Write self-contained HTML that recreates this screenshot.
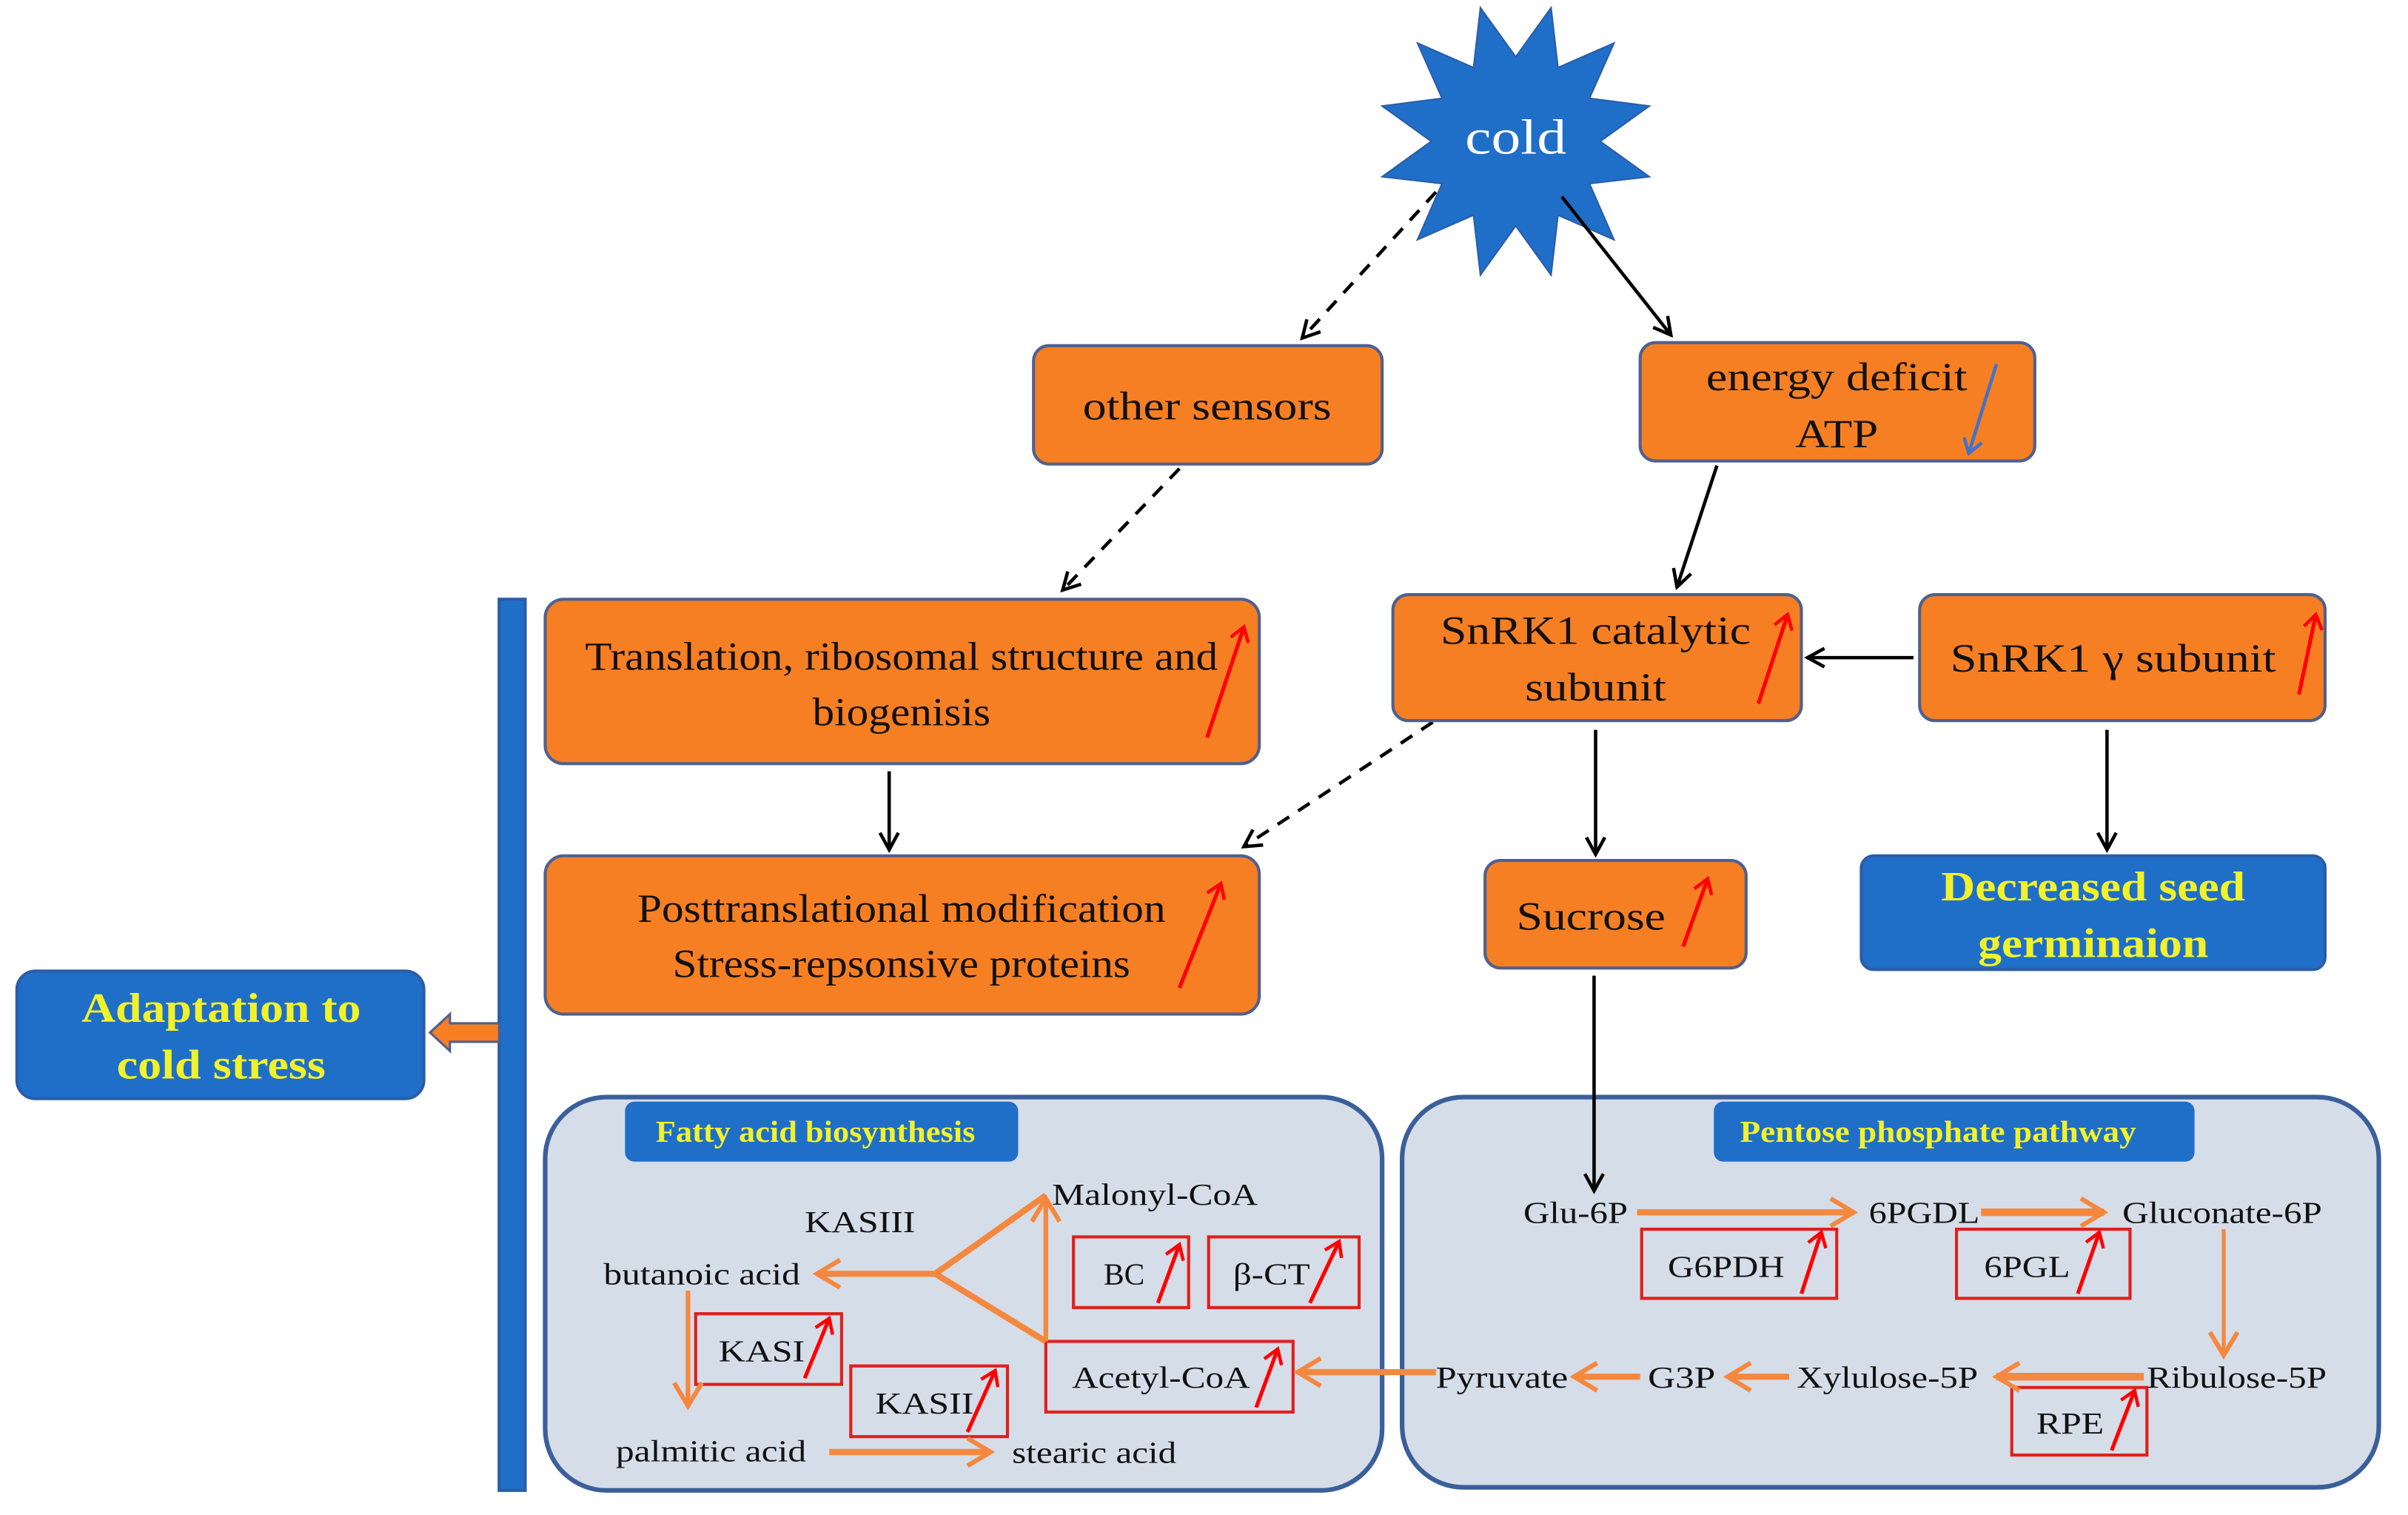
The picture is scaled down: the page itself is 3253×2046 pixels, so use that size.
<!DOCTYPE html>
<html><head><meta charset="utf-8"><style>
html,body{margin:0;padding:0;background:#fff}
svg{display:block}
svg text{font-family:"Liberation Serif","Times New Roman",serif}
</style></head><body>
<svg width="3253" height="2046" viewBox="0 0 1568 986" preserveAspectRatio="none" xmlns="http://www.w3.org/2000/svg" font-family="Liberation Serif, serif">
<defs>
<marker id="ab" markerWidth="14" markerHeight="14" refX="12" refY="7" orient="auto" markerUnits="userSpaceOnUse"><path d="M1,1 L12,7 L1,13" fill="none" stroke="#000" stroke-width="2.2"/></marker>
<marker id="ao" markerWidth="20" markerHeight="22" refX="17" refY="11" orient="auto" markerUnits="userSpaceOnUse"><path d="M2,2 L17,11 L2,20" fill="none" stroke="#f5883f" stroke-width="3"/></marker>
<marker id="ar" markerWidth="12" markerHeight="14" refX="10" refY="7" orient="auto" markerUnits="userSpaceOnUse"><path d="M1,1 L10,7 L1,13" fill="none" stroke="#f00" stroke-width="2.2"/></marker>
<marker id="abl" markerWidth="12" markerHeight="14" refX="10" refY="7" orient="auto" markerUnits="userSpaceOnUse"><path d="M1,1 L10,7 L1,13" fill="none" stroke="#4472c4" stroke-width="2.2"/></marker>
</defs>

<polygon fill="#1f6fc9" stroke="#2a5da8" stroke-width="1" points="1010,5 1014.5,44 1051,28 1035,64 1074,69 1042,92 1074,115 1035,119.5 1051,156 1014.5,140 1010,179 987,147 964,179 959.5,140 923,156 939,119.5 900,115 932,92 900,69 939,64 923,28 959.5,44 964,5 987,37"/>
<text x="987" y="100" font-size="32" fill="#fff" text-anchor="middle" textLength="66" lengthAdjust="spacingAndGlyphs">cold</text>

<g stroke="#000" stroke-width="2.2" fill="none">
<line x1="935" y1="125" x2="848" y2="220" stroke-dasharray="9,7" marker-end="url(#ab)"/>
<line x1="1017" y1="128" x2="1088" y2="218" marker-end="url(#ab)"/>
<line x1="768" y1="305" x2="692" y2="384" stroke-dasharray="9,7" marker-end="url(#ab)"/>
<line x1="1118" y1="303" x2="1092" y2="382" marker-end="url(#ab)"/>
<line x1="1246" y1="428" x2="1177" y2="428" marker-end="url(#ab)"/>
<line x1="579" y1="502" x2="579" y2="553" marker-end="url(#ab)"/>
<line x1="933" y1="470" x2="810" y2="551" stroke-dasharray="9,7" marker-end="url(#ab)"/>
<line x1="1039" y1="475" x2="1039" y2="556" marker-end="url(#ab)"/>
<line x1="1372" y1="475" x2="1372" y2="553" marker-end="url(#ab)"/>
</g>

<g fill="#f67f24" stroke="#50608e" stroke-width="2">
<rect x="673" y="225" width="227" height="77" rx="10"/>
<rect x="1068" y="223" width="257" height="77" rx="10"/>
<rect x="355" y="390" width="465" height="107" rx="12"/>
<rect x="907" y="387" width="266" height="82" rx="10"/>
<rect x="1250" y="387" width="264" height="82" rx="10"/>
<rect x="355" y="557" width="465" height="103" rx="12"/>
<rect x="967" y="560" width="170" height="70" rx="10"/>
</g>
<g font-size="26" fill="#111" text-anchor="middle">
<text x="786" y="273" textLength="162" lengthAdjust="spacingAndGlyphs">other sensors</text>
<text x="1196" y="254" textLength="170" lengthAdjust="spacingAndGlyphs">energy deficit</text>
<text x="1196" y="291" textLength="54" lengthAdjust="spacingAndGlyphs">ATP</text>
<text x="587" y="436" textLength="412" lengthAdjust="spacingAndGlyphs">Translation, ribosomal structure and</text>
<text x="587" y="472" textLength="116" lengthAdjust="spacingAndGlyphs">biogenisis</text>
<text x="1039" y="419" textLength="202" lengthAdjust="spacingAndGlyphs">SnRK1 catalytic</text>
<text x="1039" y="456" textLength="92" lengthAdjust="spacingAndGlyphs">subunit</text>
<text x="1376" y="437" textLength="212" lengthAdjust="spacingAndGlyphs">SnRK1 γ subunit</text>
<text x="587" y="600" textLength="344" lengthAdjust="spacingAndGlyphs">Posttranslational modification</text>
<text x="587" y="636" textLength="298" lengthAdjust="spacingAndGlyphs">Stress-repsonsive proteins</text>
<text x="1036" y="605" textLength="97" lengthAdjust="spacingAndGlyphs">Sucrose</text>
</g>
<line x1="1300" y1="237" x2="1282" y2="295" stroke="#4472c4" stroke-width="2.2" marker-end="url(#abl)"/>

<g fill="#1f6fc9" stroke="#2a5da8" stroke-width="2">
<rect x="1212" y="557" width="302" height="74" rx="8"/>
<rect x="11" y="632" width="265" height="83" rx="12"/>
<rect x="325" y="390" width="17" height="580"/>
</g>
<g font-size="27" font-weight="bold" fill="#f2f22a" text-anchor="middle">
<text x="1363" y="586" textLength="198" lengthAdjust="spacingAndGlyphs">Decreased seed</text>
<text x="1363" y="623" textLength="150" lengthAdjust="spacingAndGlyphs">germinaion</text>
<text x="144" y="665" textLength="182" lengthAdjust="spacingAndGlyphs">Adaptation to</text>
<text x="144" y="702" textLength="136" lengthAdjust="spacingAndGlyphs">cold stress</text>
</g>
<polygon points="280,672 293,660 293,666 325,666 325,678 293,678 293,684" fill="#f67f24" stroke="#50608e" stroke-width="1.5"/>

<g fill="#d5dde8" stroke="#3a5f9a" stroke-width="3">
<rect x="355" y="714" width="545" height="256" rx="40"/>
<rect x="913" y="714" width="636" height="254" rx="40"/>
</g>
<g fill="#1f6fc9">
<rect x="407" y="717" width="256" height="39" rx="6"/>
<rect x="1116" y="717" width="313" height="39" rx="6"/>
</g>
<g font-size="20" font-weight="bold" fill="#f2f22a" text-anchor="middle">
<text x="531" y="743" textLength="208" lengthAdjust="spacingAndGlyphs">Fatty acid biosynthesis</text>
<text x="1262" y="743" textLength="258" lengthAdjust="spacingAndGlyphs">Pentose phosphate  pathway</text>
</g>
<line x1="1038" y1="635" x2="1038" y2="775" stroke="#000" stroke-width="2.2" marker-end="url(#ab)"/>

<g fill="none" stroke="#e0201c" stroke-width="2">
<rect x="453" y="855" width="95" height="46"/>
<rect x="554" y="889" width="102" height="46"/>
<rect x="699" y="805" width="75" height="46"/>
<rect x="787" y="805" width="98" height="46"/>
<rect x="681" y="873" width="161" height="46"/>
<rect x="1069" y="800" width="127" height="45"/>
<rect x="1274" y="800" width="113" height="45"/>
<rect x="1310" y="903" width="88" height="44"/>
</g>

<g stroke="#f5883f" stroke-width="4" fill="none">
<line x1="609" y1="829" x2="532" y2="829" marker-end="url(#ao)"/>
<polyline points="681,873 609,829 681,778"/>
<line x1="681" y1="873" x2="681" y2="780" stroke-width="3" marker-end="url(#ao)"/>
<line x1="448" y1="840" x2="448" y2="915" stroke-width="3" marker-end="url(#ao)"/>
<line x1="540" y1="945" x2="645" y2="945" marker-end="url(#ao)"/>
<line x1="935" y1="893" x2="845" y2="893" marker-end="url(#ao)"/>
<line x1="1066" y1="789" x2="1207" y2="789" marker-end="url(#ao)"/>
<line x1="1290" y1="789" x2="1370" y2="789" stroke-width="5" marker-end="url(#ao)"/>
<line x1="1448" y1="800" x2="1448" y2="882" stroke-width="2.5" marker-end="url(#ao)"/>
<line x1="1396" y1="896" x2="1300" y2="896" stroke-width="5" marker-end="url(#ao)"/>
<line x1="1165" y1="896" x2="1125" y2="896" marker-end="url(#ao)"/>
<line x1="1068" y1="896" x2="1025" y2="896" marker-end="url(#ao)"/>
</g>

<g font-size="20" fill="#111">
<text x="685" y="784" textLength="134" lengthAdjust="spacingAndGlyphs">Malonyl-CoA</text>
<text x="560" y="802" text-anchor="middle" textLength="72" lengthAdjust="spacingAndGlyphs">KASIII</text>
<text x="393" y="836" textLength="128" lengthAdjust="spacingAndGlyphs">butanoic acid</text>
<text x="496" y="886" text-anchor="middle" textLength="56" lengthAdjust="spacingAndGlyphs">KASI</text>
<text x="602" y="920" text-anchor="middle" textLength="64" lengthAdjust="spacingAndGlyphs">KASII</text>
<text x="732" y="836" text-anchor="middle">BC</text>
<text x="828" y="836" text-anchor="middle" textLength="50" lengthAdjust="spacingAndGlyphs">β-CT</text>
<text x="756" y="903" text-anchor="middle" textLength="116" lengthAdjust="spacingAndGlyphs">Acetyl-CoA</text>
<text x="401" y="951" textLength="124" lengthAdjust="spacingAndGlyphs">palmitic acid</text>
<text x="659" y="952" textLength="107" lengthAdjust="spacingAndGlyphs">stearic acid</text>
<text x="992" y="796" textLength="68" lengthAdjust="spacingAndGlyphs">Glu-6P</text>
<text x="1217" y="796" textLength="72" lengthAdjust="spacingAndGlyphs">6PGDL</text>
<text x="1382" y="796" textLength="130" lengthAdjust="spacingAndGlyphs">Gluconate-6P</text>
<text x="1124" y="831" text-anchor="middle" textLength="76" lengthAdjust="spacingAndGlyphs">G6PDH</text>
<text x="1320" y="831" text-anchor="middle" textLength="56" lengthAdjust="spacingAndGlyphs">6PGL</text>
<text x="1398" y="903" textLength="117" lengthAdjust="spacingAndGlyphs">Ribulose-5P</text>
<text x="1170" y="903" textLength="118" lengthAdjust="spacingAndGlyphs">Xylulose-5P</text>
<text x="1073" y="903" textLength="44" lengthAdjust="spacingAndGlyphs">G3P</text>
<text x="935" y="903" textLength="86" lengthAdjust="spacingAndGlyphs">Pyruvate</text>
<text x="1348" y="933" text-anchor="middle" textLength="44" lengthAdjust="spacingAndGlyphs">RPE</text>
</g>

<g stroke="#f00" stroke-width="2.5" fill="none">
<line x1="786" y1="480" x2="810" y2="408" marker-end="url(#ar)"/>
<line x1="1145" y1="458" x2="1164" y2="400" marker-end="url(#ar)"/>
<line x1="1497" y1="452" x2="1508" y2="400" marker-end="url(#ar)"/>
<line x1="768" y1="643" x2="795" y2="575" marker-end="url(#ar)"/>
<line x1="1096" y1="616" x2="1112" y2="572" marker-end="url(#ar)"/>
<line x1="524" y1="897" x2="540" y2="858" marker-end="url(#ar)"/>
<line x1="630" y1="932" x2="648" y2="892" marker-end="url(#ar)"/>
<line x1="754" y1="848" x2="768" y2="810" marker-end="url(#ar)"/>
<line x1="853" y1="848" x2="872" y2="808" marker-end="url(#ar)"/>
<line x1="818" y1="916" x2="832" y2="878" marker-end="url(#ar)"/>
<line x1="1173" y1="842" x2="1186" y2="802" marker-end="url(#ar)"/>
<line x1="1353" y1="842" x2="1367" y2="802" marker-end="url(#ar)"/>
<line x1="1375" y1="944" x2="1390" y2="905" marker-end="url(#ar)"/>
</g>
</svg>
</body></html>
